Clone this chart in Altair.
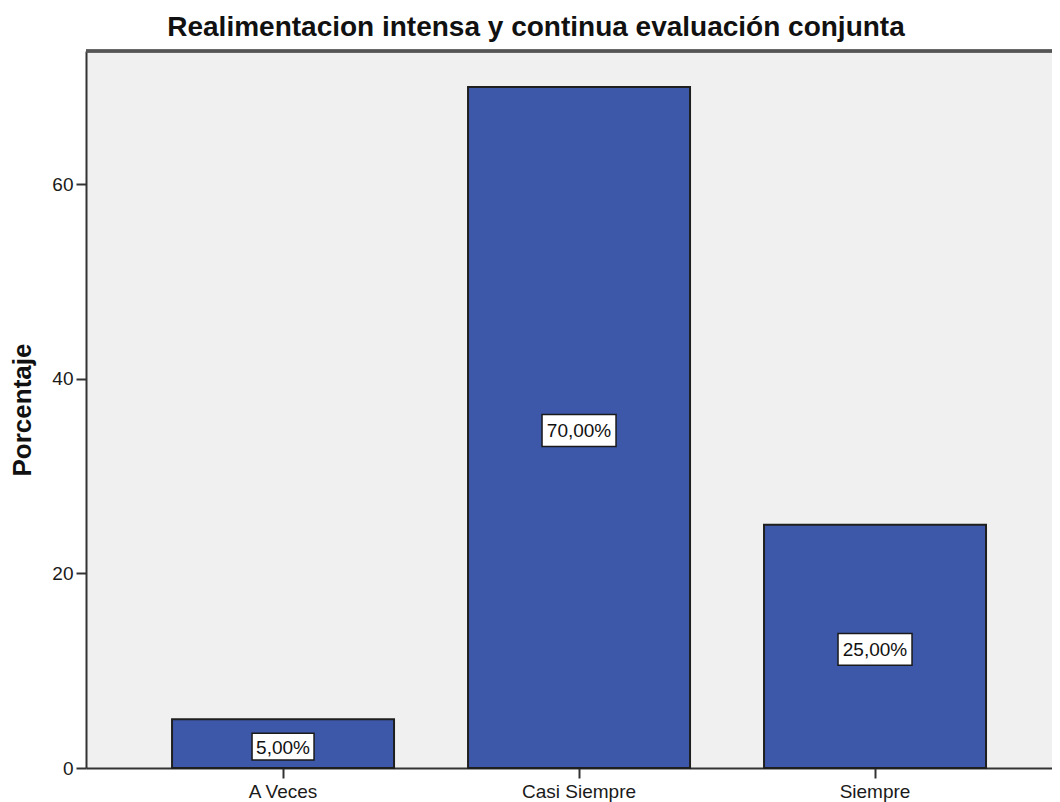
import altair as alt
import pandas as pd

categories = ["A Veces", "Casi Siempre", "Siempre"]
percentages = [5.0, 70.0, 25.0]
labels = ["5,00%", "70,00%", "25,00%"]
y_ticks = [0, 20, 40, 60]

df = pd.DataFrame({"cat": categories, "pct": percentages, "label": labels})

W, H = 966, 717
FONT = "Liberation Sans"

x_scale = alt.Scale(domain=categories, paddingInner=0.25, paddingOuter=0.2568, align=0.566)
y_scale = alt.Scale(domain=[0, 73.7], nice=False, zero=True)

x_enc = alt.X("cat:N", scale=x_scale, sort=categories,
              axis=alt.Axis(title=None, labelAngle=0, labelFontSize=19, labelFont=FONT,
                            labelColor="#1a1a1a", tickSize=10, tickWidth=2, tickColor="#333",
                            domainColor="#333", domainWidth=2, labelPadding=4))

bars = alt.Chart(df).mark_bar(color="#3d58a9", stroke="#1f1f1f", strokeWidth=2).encode(
    x=x_enc,
    y=alt.Y("pct:Q", scale=y_scale,
            axis=alt.Axis(title="Porcentaje", values=y_ticks, grid=False,
                          labelFontSize=19, labelFont=FONT, labelColor="#1a1a1a",
                          tickSize=10, tickWidth=2, tickColor="#333",
                          domainColor="#333", domainWidth=2, labelPadding=3,
                          titleFont=FONT, titleFontSize=26, titleFontWeight="bold",
                          titleColor="#111", titleAngle=270, titleX=-56,
                          titleBaseline="alphabetic")),
)

base_lbl = alt.Chart(df).transform_calculate(mid="datum.pct / 2")

box = base_lbl.transform_calculate(sz="pow(length(datum.label) * 12 + 2, 2)").mark_point(
    shape="M-1,-0.43L1,-0.43L1,0.43L-1,0.43Z", filled=False, fill="white", fillOpacity=1,
    stroke="#1a1a1a", strokeWidth=1.5, opacity=1, yOffset=3,
).encode(
    x=alt.X("cat:N", scale=x_scale, sort=categories),
    y=alt.Y("mid:Q", scale=y_scale),
    size=alt.Size("sz:Q", scale=None, legend=None),
)

txt = base_lbl.mark_text(font=FONT, fontSize=19, color="#111", baseline="middle",
                         align="center", yOffset=4).encode(
    x=alt.X("cat:N", scale=x_scale, sort=categories),
    y=alt.Y("mid:Q", scale=y_scale),
    text="label:N",
)

top_line = alt.Chart(df).mark_rule(color="#555", strokeWidth=3).encode(
    y=alt.value(0), x=alt.value(0), x2=alt.value(W)
)

chart = alt.layer(bars, box, txt, top_line).properties(
    width=W, height=H,
    background="white",
    title=alt.TitleParams(
        "Realimentacion intensa y continua evaluación conjunta",
        font=FONT, fontSize=28, fontWeight="bold", color="#111",
        anchor="middle", dx=-33, offset=8,
    ),
    autosize=alt.AutoSizeParams(type="none"),
    padding={"left": 78, "top": 43, "right": 0, "bottom": 40},
).configure_view(fill="#f0f0f0", stroke=None)

chart.save("out.html", embed_options={"renderer": "svg", "actions": False})
